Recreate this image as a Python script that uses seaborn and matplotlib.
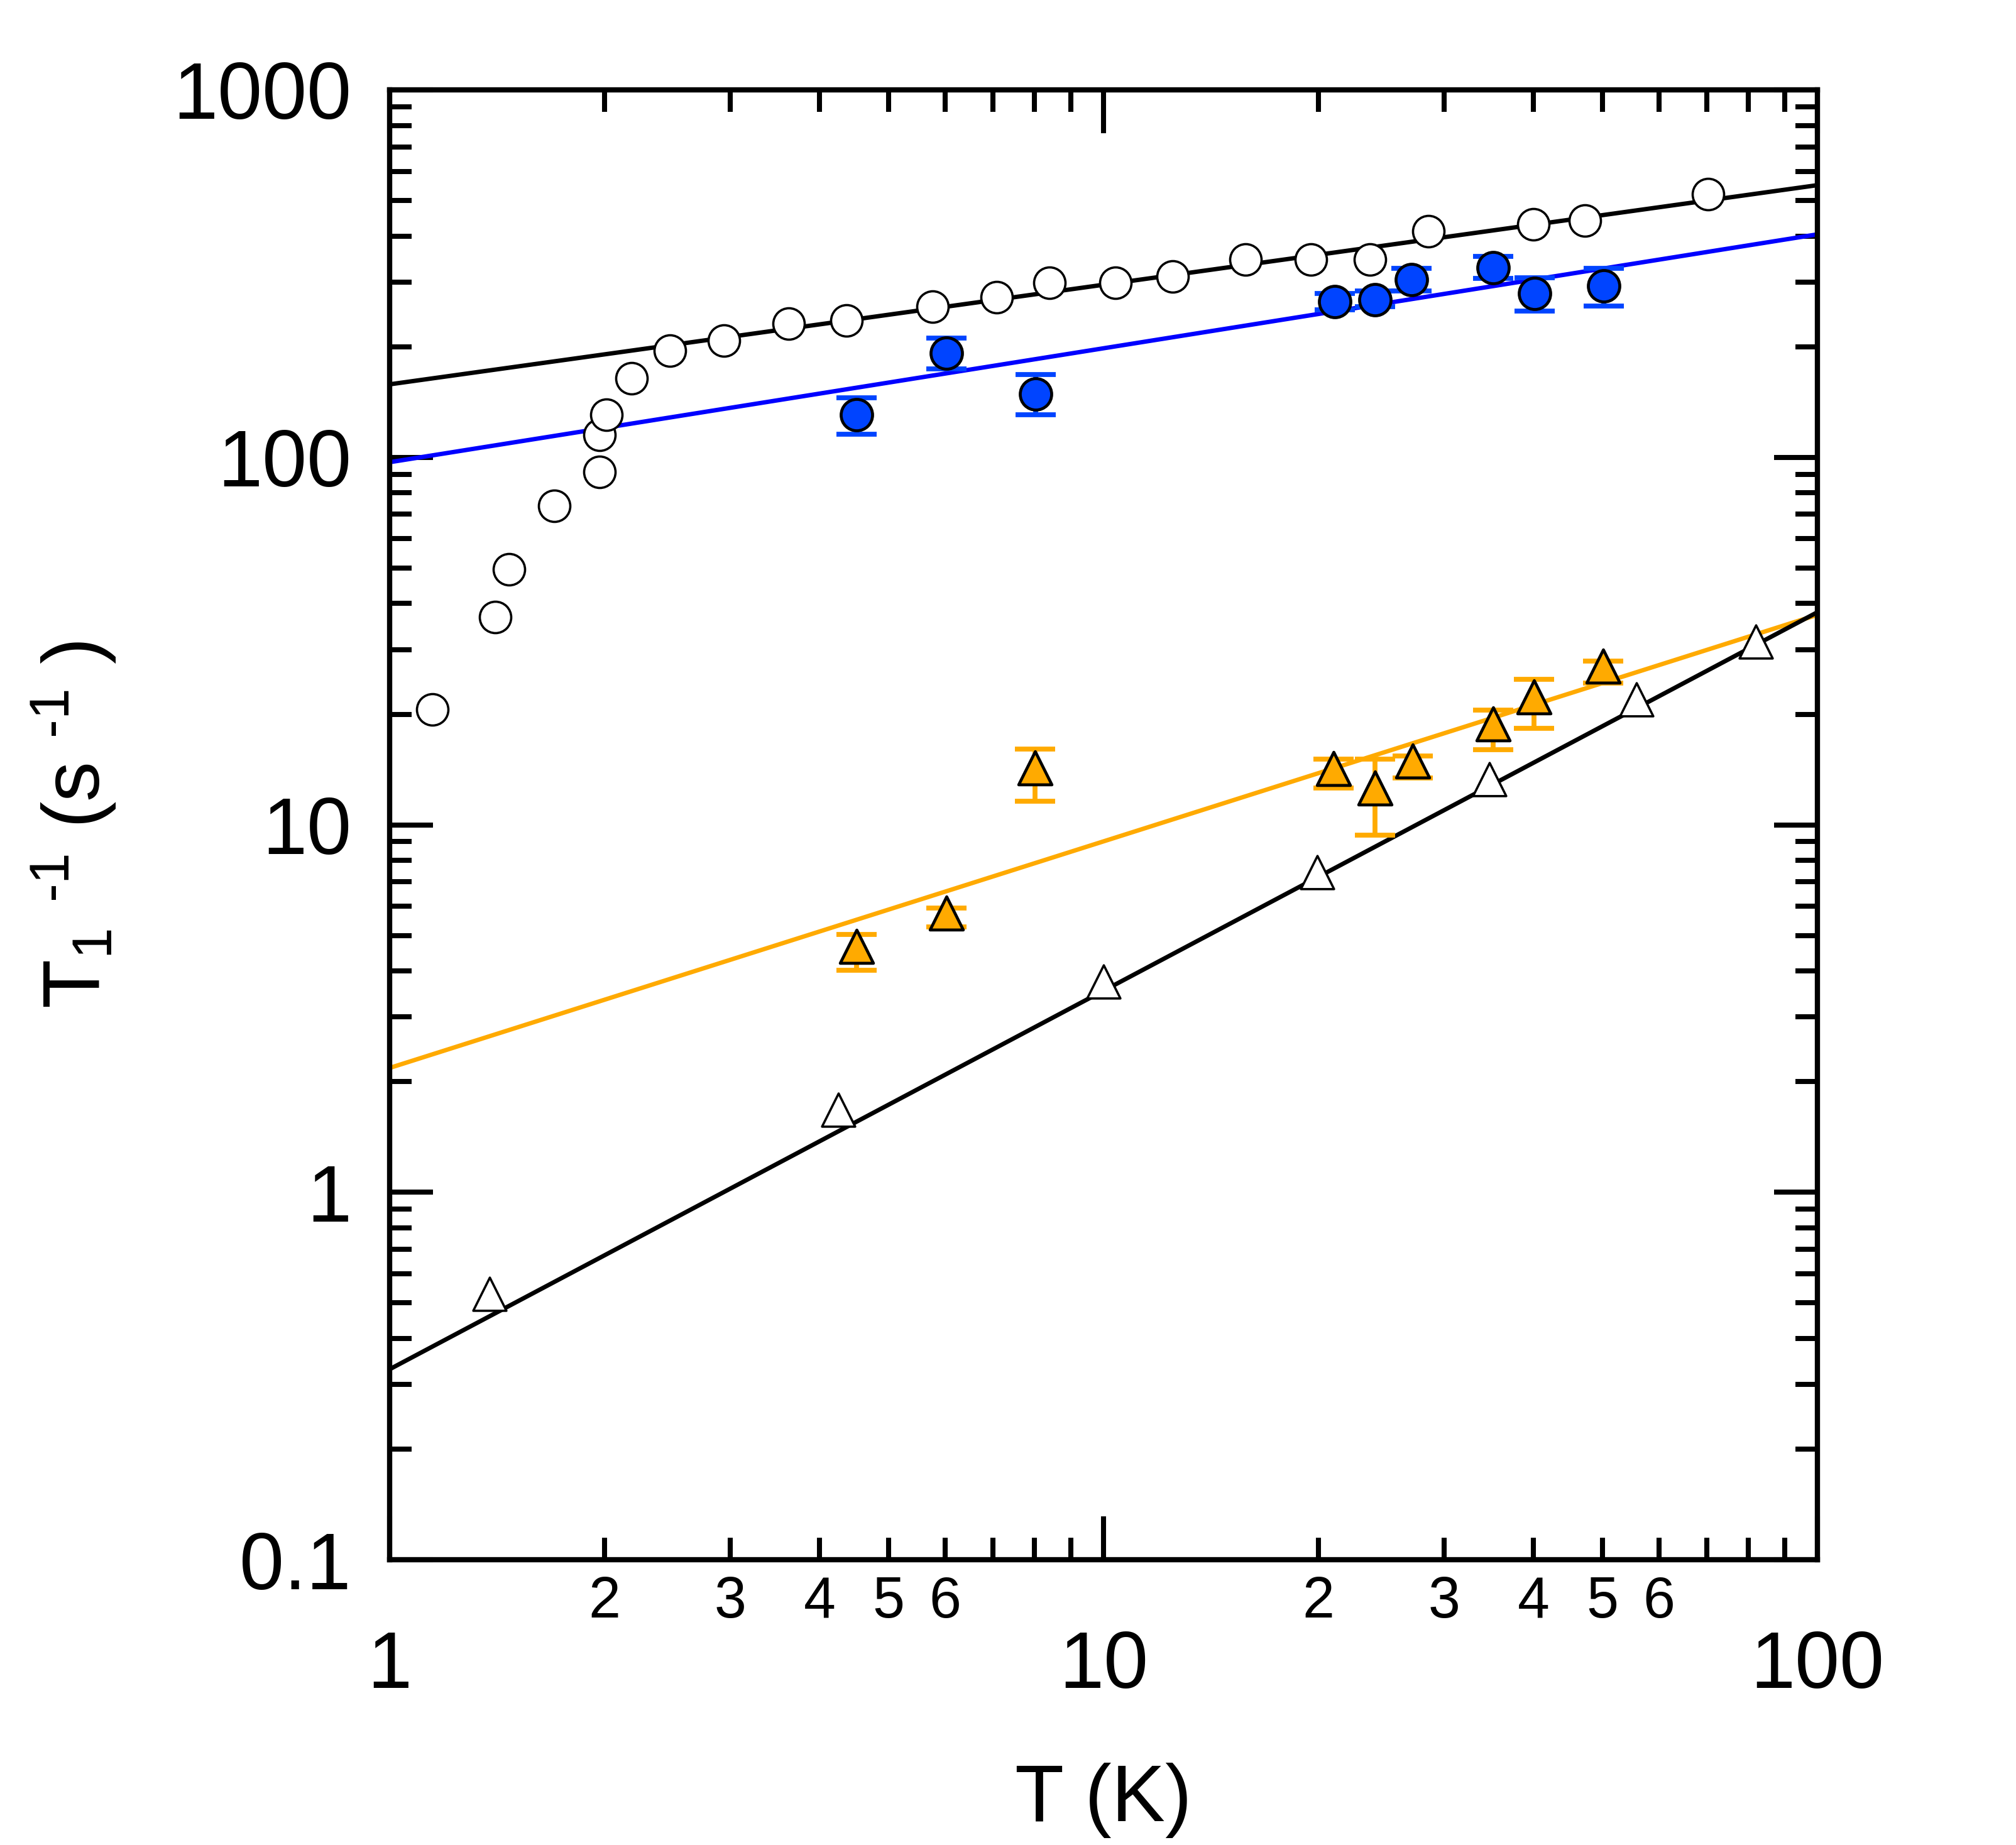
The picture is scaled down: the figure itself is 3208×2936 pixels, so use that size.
import numpy as np
import pandas as pd
import matplotlib
matplotlib.use("Agg")
import matplotlib.pyplot as plt
import matplotlib.ticker as mticker
import seaborn as sns

# open circles (no error bars)
circ_open_T = [1.147, 1.405, 1.47, 1.70, 1.966, 1.967, 2.01, 2.18, 2.47, 2.94, 3.62,
               4.36, 5.76, 7.09, 8.40, 10.4, 12.5, 15.8, 19.5, 23.6, 28.5, 40.0, 47.2, 70.3]
circ_open_R = [20.6, 36.8, 49.6, 73.9, 91.1, 115, 130.7, 163.8, 195, 208, 231,
               236, 257, 273, 298, 298, 311, 345, 345, 345, 412, 430, 440, 521]

# filled blue circles with error bars
circ_blue_T = [4.51, 6.02, 8.03, 21.1, 24.0, 27.0, 35.1, 40.2, 50.2]
circ_blue_R = [130.6, 192, 148.7, 265, 268.6, 304, 328, 279, 292.7]
circ_blue_lo = [115.6, 174, 130.6, 252, 257, 283.6, 307, 250, 258]
circ_blue_hi = [145, 211, 168, 279, 283.6, 327, 352, 308, 327]

# open triangles (no error bars)
tri_open_T = [1.38, 4.25, 10.0, 19.9, 34.7, 55.8, 81.9]
tri_open_R = [0.53, 1.68, 3.74, 7.42, 13.3, 21.9, 31.5]

# filled orange triangles with error bars
tri_orange_T = [4.51, 6.02, 8.02, 21.0, 24.0, 27.1, 35.1, 40.1, 50.1]
tri_orange_R = [4.67, 5.76, 14.3, 14.2, 12.6, 14.9, 18.8, 22.3, 27.0]
tri_orange_lo = [4.02, 5.28, 11.6, 12.6, 9.37, 13.4, 16.0, 18.3, 24.3]
tri_orange_hi = [5.04, 5.93, 16.1, 15.1, 15.1, 15.4, 20.5, 24.9, 27.9]

# power law fits R = A * T**n
fit_names = ["black_top", "blue", "orange", "black_low"]
fit_A = [158, 97, 2.18, 0.33]
fit_n = [0.271, 0.310, 0.6165, 1.03]
fit_colors = ["black", "#0000ff", "#ffaa00", "black"]

BLUE = "#0044ff"
ORANGE = "#ffaa00"

sns.set_style("ticks")
plt.rcParams["font.family"] = ["Liberation Sans", "DejaVu Sans"]
plt.rcParams["mathtext.fontset"] = "custom"
plt.rcParams["mathtext.rm"] = "Liberation Sans"
plt.rcParams["mathtext.it"] = "Liberation Sans"
for key in ["text.color", "axes.labelcolor", "xtick.color", "ytick.color", "axes.edgecolor"]:
    plt.rcParams[key] = "black"

fig = plt.figure(figsize=(16.04, 14.68), dpi=200)
ax = fig.add_axes([0.1933, 0.1546, 0.9015 - 0.1933, 0.9513 - 0.1546])
ax.set_xscale("log")
ax.set_yscale("log")

# fit lines
T_line = np.array([1.0, 100.0])
for name, A, n, c in zip(fit_names, fit_A, fit_n, fit_colors):
    line_df = pd.DataFrame({"T": T_line, "R": A * T_line ** n})
    sns.lineplot(data=line_df, x="T", y="R", color=c, linewidth=2.5, ax=ax, zorder=2)

# error bars
blue_R = np.array(circ_blue_R)
ax.errorbar(circ_blue_T, blue_R,
            yerr=[blue_R - np.array(circ_blue_lo), np.array(circ_blue_hi) - blue_R],
            fmt="none", ecolor=BLUE, elinewidth=2.8, capsize=11.5, capthick=2.8, zorder=3)
or_R = np.array(tri_orange_R)
ax.errorbar(tri_orange_T, or_R,
            yerr=[or_R - np.array(tri_orange_lo), np.array(tri_orange_hi) - or_R],
            fmt="none", ecolor=ORANGE, elinewidth=2.8, capsize=11.5, capthick=2.8, zorder=3)

# markers
sns.scatterplot(x=circ_open_T, y=circ_open_R, marker="o", s=18 ** 2, color="white",
                edgecolor="black", linewidth=1.3, ax=ax, zorder=4)
sns.scatterplot(x=circ_blue_T, y=circ_blue_R, marker="o", s=18 ** 2, color=BLUE,
                edgecolor="black", linewidth=1.7, ax=ax, zorder=4)
sns.scatterplot(x=tri_open_T, y=tri_open_R, marker="^", s=19 ** 2, color="white",
                edgecolor="black", linewidth=1.3, ax=ax, zorder=4)
sns.scatterplot(x=tri_orange_T, y=tri_orange_R, marker="^", s=19 ** 2, color=ORANGE,
                edgecolor="black", linewidth=1.7, ax=ax, zorder=4)

ax.set_xlim(1, 100)
ax.set_ylim(0.1, 1000)

# axes frame and ticks
for sp in ax.spines.values():
    sp.set_linewidth(3.0)
    sp.set_visible(True)
    sp.set_color("black")
ax.tick_params(which="both", direction="in", top=True, right=True, width=2.9, colors="black")
ax.tick_params(which="major", length=25)
ax.tick_params(which="minor", length=12.5)
ax.tick_params(axis="x", which="major", labelsize=46, pad=40)
ax.tick_params(axis="x", which="minor", labelsize=33, pad=9)
ax.tick_params(axis="y", which="major", labelsize=46, pad=22)

ax.xaxis.set_major_locator(mticker.LogLocator(base=10, numticks=10))
ax.xaxis.set_minor_locator(mticker.LogLocator(base=10, subs=np.arange(2, 10), numticks=20))
ax.yaxis.set_major_locator(mticker.LogLocator(base=10, numticks=10))
ax.yaxis.set_minor_locator(mticker.LogLocator(base=10, subs=np.arange(2, 10), numticks=20))


def major_fmt(v, pos):
    return "%g" % v


def minor_x_fmt(v, pos):
    m = int(round(v / 10 ** np.floor(np.log10(v) + 1e-9)))
    return str(m) if 2 <= m <= 6 else ""


ax.xaxis.set_major_formatter(mticker.FuncFormatter(major_fmt))
ax.xaxis.set_minor_formatter(mticker.FuncFormatter(minor_x_fmt))
ax.yaxis.set_major_formatter(mticker.FuncFormatter(major_fmt))
ax.yaxis.set_minor_formatter(mticker.NullFormatter())

ax.set_xlabel("T (K)", fontsize=46)
ax.set_ylabel(r"T$_1$ $^{\text{-}1}$ (s $^{\text{-}1}$ )", fontsize=46)
ax.xaxis.set_label_coords(0.5, -0.138)
ax.yaxis.set_label_coords(-0.19, 0.5)

fig.savefig("out.png", dpi=200, facecolor="white")
